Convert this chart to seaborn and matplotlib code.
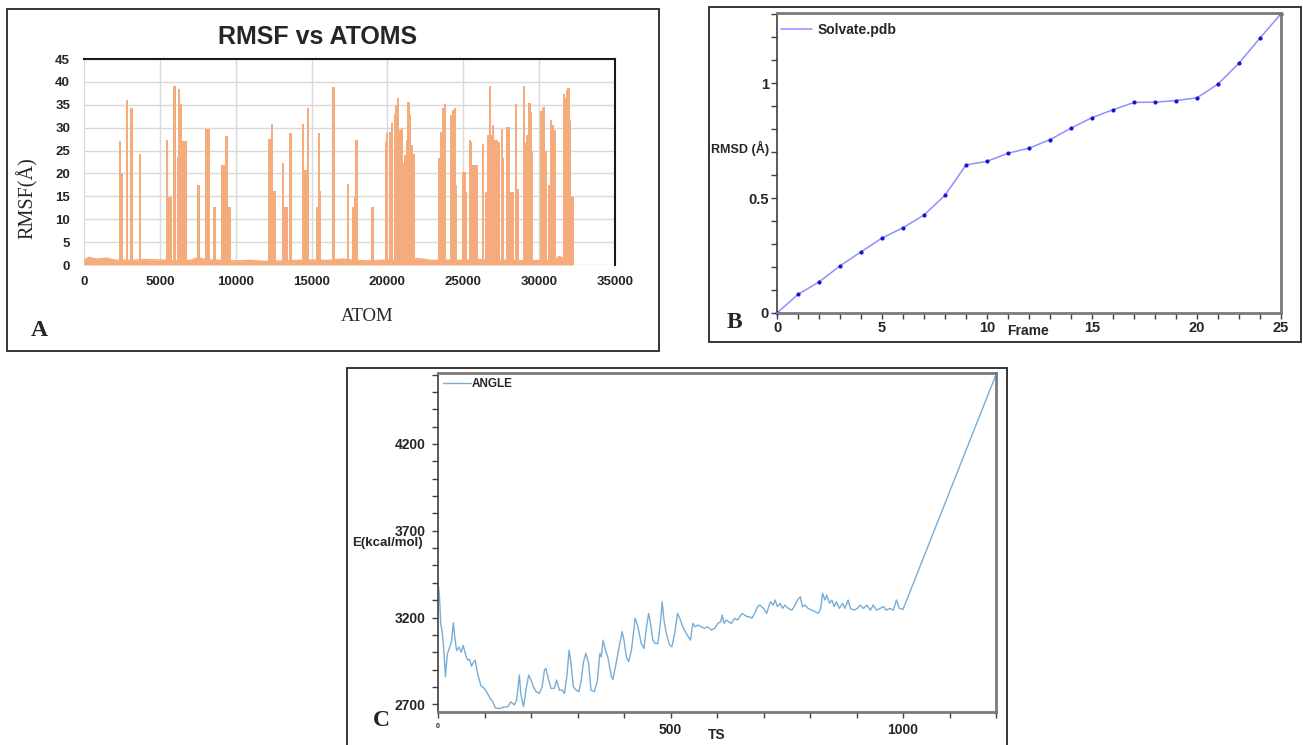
import matplotlib.pyplot as plt
import matplotlib.patches as patches
from matplotlib.lines import Line2D
from matplotlib.ticker import MultipleLocator
import pandas as pd
import seaborn as sns

sns.set_style('white')
plt.rcParams['font.family'] = ['Liberation Sans', 'DejaVu Sans']

# ---- panel A: RMSF per atom ----
baseline_atoms = [0, 300, 800, 1500, 2000, 3000, 4000, 5000, 6000, 7000, 7500, 8000,
                  9000, 10000, 11000, 12000, 13000, 14000, 15000, 16000, 17000, 18000,
                  19000, 20000, 21000, 22000, 23000, 24000, 25000, 26000, 27000, 28000,
                  29000, 30000, 31000, 31300, 32000, 32200]
baseline_rmsf = [1.0, 1.7, 1.3, 1.5, 1.1, 1.0, 1.2, 1.1, 0.9, 1.0, 1.6, 1.2,
                 1.0, 0.9, 1.0, 0.8, 0.9, 1.0, 1.1, 1.0, 1.3, 1.0,
                 0.9, 1.1, 1.0, 1.4, 1.0, 1.1, 1.0, 1.2, 1.0, 1.1,
                 0.9, 1.0, 1.0, 1.9, 1.0, 1.0]

spike_atoms = [2390, 2470, 2830, 3130, 3700, 5480, 5600, 5740, 5960, 6220, 6260, 6390,
               6500, 6600, 6700, 7540, 8050, 8150, 8260, 8610, 9130, 9220, 9300, 9390,
               9520, 9610, 12220, 12300, 12390, 12480, 12570, 13130, 13260, 13350, 13610,
               14440, 14570, 14650, 14700, 14780, 15390, 15480, 15570, 16440, 17400,
               17750, 17860, 17970, 19020, 19890, 19980, 20200, 20280, 20500, 20590,
               20720, 20810, 20980, 21070, 21160, 21290, 21380, 21500, 21590, 21770,
               23380, 23470, 23560, 23650, 23700, 23780, 24210, 24300, 24430, 24520,
               25000, 25090, 25180, 25440, 25520, 25610, 25740, 25920, 26310, 26490,
               26620, 26750, 26880, 26970, 27100, 27230, 27360, 27530, 27620, 27880,
               28010, 28140, 28270, 28490, 28580, 29020, 29150, 29240, 29370, 29450,
               29540, 30110, 30240, 30330, 30460, 30630, 30760, 30890, 31030, 31640,
               31720, 31860, 31940, 32030, 32120, 32200]
spike_rmsf = [27.1, 20.2, 36.0, 34.4, 24.3, 27.3, 14.9, 14.9, 39.0, 23.7, 38.4, 35.1,
              27.1, 27.1, 27.1, 17.5, 29.7, 29.7, 29.7, 12.7, 21.8, 21.8, 21.8, 28.2,
              12.7, 12.7, 27.5, 27.5, 30.7, 16.2, 16.2, 22.2, 12.7, 12.7, 28.8,
              30.8, 20.8, 20.8, 20.8, 34.4, 12.7, 28.8, 16.2, 38.8, 17.6,
              12.7, 14.9, 27.3, 12.7, 26.9, 28.8, 29.0, 31.0, 32.9, 35.0,
              36.4, 29.5, 29.9, 22.2, 24.0, 27.3, 35.7, 32.8, 26.2, 24.2,
              23.3, 23.3, 29.1, 34.2, 30.0, 35.1, 32.8, 33.9, 34.2, 17.5,
              20.4, 20.4, 16.0, 27.3, 26.9, 21.8, 21.8, 21.8, 26.4, 16.0,
              28.4, 39.2, 28.4, 30.6, 27.3, 27.3, 26.9, 29.7, 23.3, 30.2,
              30.2, 16.0, 16.0, 35.1, 16.6, 39.2, 26.6, 28.4, 35.3, 33.5,
              24.9, 33.6, 34.2, 34.6, 24.9, 17.5, 31.7, 30.6, 29.5, 37.3,
              36.4, 38.2, 38.7, 31.7, 14.9, 14.9]

# ---- panel B: RMSD per frame ----
frames = list(range(25))
rmsd = [0.0, 0.081, 0.135, 0.205, 0.266, 0.326, 0.371, 0.426, 0.512, 0.644, 0.660,
        0.695, 0.717, 0.754, 0.804, 0.850, 0.884, 0.916, 0.917, 0.924, 0.936,
        0.996, 1.087, 1.196, 1.302]

# ---- panel C: ANGLE energy per time step ----
ts_steps = [0, 3, 6, 9, 12, 16, 20, 25, 29, 33, 36, 40, 45, 50, 54, 60, 64, 68, 72, 76,
            80, 85, 92, 100, 107, 112, 118, 123, 132, 139, 150, 157, 164, 169, 175, 178,
            184, 189, 195, 200, 205, 211, 218, 224, 229, 232, 238, 243, 250, 255, 261,
            267, 272, 277, 282, 286, 291, 297, 303, 308, 313, 318, 324, 329, 336, 343,
            348, 351, 355, 360, 365, 373, 376, 383, 391, 396, 400, 405, 410, 416, 421,
            424, 430, 437, 443, 448, 453, 457, 462, 467, 473, 479, 482, 486, 491, 498,
            503, 509, 515, 520, 525, 530, 538, 543, 548, 553, 559, 566, 573, 580, 588,
            595, 602, 608, 611, 615, 620, 625, 631, 638, 644, 649, 654, 659, 665, 670,
            675, 681, 687, 692, 700, 707, 710, 715, 721, 725, 730, 736, 741, 746, 753,
            761, 768, 773, 779, 784, 789, 796, 804, 811, 818, 823, 827, 832, 836, 842,
            847, 852, 857, 863, 870, 875, 882, 887, 895, 902, 908, 915, 922, 930, 936,
            943, 951, 958, 964, 972, 979, 986, 992, 1000, 1200]
angle_energy = [3400, 3330, 3160, 3120, 3030, 2860, 2990, 3030, 3060, 3170, 3090, 3010,
                3030, 3000, 3040, 2980, 2955, 2960, 2920, 2940, 2955, 2880, 2810, 2790,
                2760, 2735, 2715, 2680, 2675, 2683, 2686, 2715, 2696, 2725, 2870, 2760,
                2686, 2782, 2869, 2840, 2802, 2773, 2763, 2802, 2898, 2907, 2840, 2792,
                2792, 2840, 2782, 2782, 2763, 2859, 3013, 2936, 2802, 2782, 2773, 2840,
                2946, 2994, 2936, 2782, 2773, 2840, 2994, 2974, 3070, 3013, 2974, 2859,
                2844, 2936, 3051, 3119, 3070, 2974, 2946, 3013, 3128, 3196, 3147, 3051,
                3022, 3138, 3224, 3167, 3070, 3051, 3051, 3186, 3291, 3186, 3109, 3042,
                3032, 3109, 3224, 3196, 3157, 3128, 3090, 3070, 3167, 3147, 3157, 3147,
                3138, 3147, 3128, 3138, 3167, 3176, 3215, 3167, 3186, 3176, 3167, 3196,
                3186, 3205, 3224, 3215, 3205, 3205, 3196, 3224, 3263, 3272, 3253, 3224,
                3253, 3291, 3272, 3301, 3263, 3282, 3253, 3272, 3253, 3243, 3272, 3301,
                3320, 3263, 3272, 3253, 3243, 3234, 3224, 3253, 3340, 3301, 3330, 3282,
                3301, 3263, 3291, 3253, 3282, 3253, 3301, 3253, 3243, 3253, 3272, 3253,
                3272, 3243, 3272, 3243, 3253, 3263, 3243, 3253, 3243, 3301, 3253, 3247,
                4600]

W, H = 1303, 745


def box(x0, y0, x1, y1):
    '''pixel box (left, top, right, bottom) -> figure fractions'''
    return [x0 / W, 1 - y1 / H, (x1 - x0) / W, (y1 - y0) / H]


def bold_ticks(ax):
    for lbl in ax.get_xticklabels() + ax.get_yticklabels():
        lbl.set_fontweight('bold')


fig = plt.figure(figsize=(W / 100, H / 100), dpi=100)

# panel frames
for x0, y0, x1, y1 in [(7, 9, 659, 351), (709, 7, 1301, 342), (347, 368, 1007, 750)]:
    fig.add_artist(patches.Rectangle((x0 / W, 1 - y1 / H), (x1 - x0) / W, (y1 - y0) / H,
                                     transform=fig.transFigure, fill=False,
                                     lw=1.3, ec='#262626'))

# ---------------- A ----------------
orange = '#f4ac7c'
axA = fig.add_axes(box(84, 59, 615, 265))
df_base = pd.DataFrame({'atom': baseline_atoms, 'rmsf': baseline_rmsf})
sns.lineplot(data=df_base, x='atom', y='rmsf', color=orange, lw=1, ax=axA)
axA.fill_between(baseline_atoms, baseline_rmsf, color=orange, lw=0)
axA.bar(spike_atoms, spike_rmsf, width=150, color=orange, lw=0)
axA.set(xlim=(0, 35000), ylim=(0, 45))
axA.set_xticks(range(0, 35001, 5000))
axA.set_yticks(range(0, 46, 5))
axA.grid(True, color='#d9d9d9', lw=1)
axA.set_axisbelow(True)
for s in ['left', 'bottom']:
    axA.spines[s].set_visible(False)
for s in ['top', 'right']:
    axA.spines[s].set(color='#1a1a1a', lw=1.5)
axA.tick_params(axis='y', length=0, labelsize=9.5, pad=10)
axA.tick_params(axis='x', length=0, labelsize=9.5, pad=8)
bold_ticks(axA)
axA.set_ylabel('RMSF(Å)', family=['Liberation Serif'], fontsize=14.5, ha='center', va='center')
axA.yaxis.set_label_coords(-0.107, 0.325)
axA.set_xlabel('ATOM', family=['Liberation Serif'], fontsize=13.5, ha='center', va='center')
axA.xaxis.set_label_coords(0.533, -0.252)
axA.text(0.44, 1.107, 'RMSF vs ATOMS', transform=axA.transAxes, ha='center', va='center',
         fontsize=18, fontweight='bold')

# ---------------- B ----------------
line_b = '#8f8fff'
axB = fig.add_axes(box(777, 13, 1281, 313))
df_rmsd = pd.DataFrame({'frame': frames, 'rmsd': rmsd})
sns.lineplot(data=df_rmsd, x='frame', y='rmsd', color=line_b, lw=1.1, marker='o',
             markersize=3.0, markerfacecolor='#1414d2', markeredgewidth=0,
             clip_on=False, ax=axB)
axB.set(xlim=(0, 24), ylim=(0, 1.305))
axB.set_xticks([0, 5, 10, 15, 20, 24], ['0', '5', '10', '15', '20', '25'])
axB.xaxis.set_minor_locator(MultipleLocator(1))
axB.set_yticks([0, 0.5, 1], ['0', '0.5', '1'])
axB.yaxis.set_minor_locator(MultipleLocator(0.1))
axB.tick_params(which='both', direction='out', length=4, width=1, color='#404040',
                labelsize=10.5, pad=2, bottom=True, left=True)
bold_ticks(axB)
axB.spines['left'].set(color='#404040', lw=1.2)
for s in ['top', 'right', 'bottom']:
    axB.spines[s].set(color='#7a7a7a', lw=2)
axB.set_ylabel('RMSD (Å)', rotation=0, ha='right', va='center', fontsize=9, fontweight='bold')
axB.yaxis.set_label_coords(-0.016, 0.547)
axB.set_xlabel('Frame', ha='center', va='center', fontsize=10, fontweight='bold')
axB.xaxis.set_label_coords(0.498, -0.06)
axB.legend(handles=[Line2D([], [], color=line_b, lw=1.1)], labels=['Solvate.pdb'],
           loc='upper left', bbox_to_anchor=(-0.004, 0.985), frameon=False, borderaxespad=0,
           handlelength=2.3, handletextpad=0.4, prop={'weight': 'bold', 'size': 10})

# ---------------- C ----------------
line_c = '#76aed8'
axC = fig.add_axes(box(438, 373, 996, 712))
df_angle = pd.DataFrame({'ts': ts_steps, 'energy': angle_energy})
sns.lineplot(data=df_angle, x='ts', y='energy', color=line_c, lw=1, ax=axC)
axC.set(xlim=(0, 1200), ylim=(2656, 4609))
axC.set_xticks([0, 500, 1000], ['0', '500', '1000'])
axC.xaxis.set_minor_locator(MultipleLocator(100))
axC.set_yticks([2700, 3200, 3700, 4200])
axC.yaxis.set_minor_locator(MultipleLocator(100))
axC.tick_params(which='both', direction='out', length=4, width=1, color='#404040',
                labelsize=10, bottom=True, left=True)
axC.tick_params(axis='y', pad=5)
axC.tick_params(axis='x', pad=4)
bold_ticks(axC)
axC.get_xticklabels()[0].set_fontsize(5)
axC.spines['left'].set(color='#404040', lw=1.2)
for s in ['top', 'right', 'bottom']:
    axC.spines[s].set(color='#7a7a7a', lw=2)
axC.set_ylabel('E(kcal/mol)', rotation=0, ha='center', va='center', fontsize=9.5, fontweight='bold')
axC.yaxis.set_label_coords(-0.091, 0.4985)
axC.set_xlabel('TS', ha='center', va='center', fontsize=10, fontweight='bold')
axC.xaxis.set_label_coords(0.5, -0.068)
axC.legend(handles=[Line2D([], [], color=line_c, lw=1)], labels=['ANGLE'],
           loc='upper left', bbox_to_anchor=(0.0, 1.0), frameon=False, borderaxespad=0,
           handlelength=2.4, handletextpad=0.05, prop={'weight': 'bold', 'size': 8.5})

# panel letters
for x, y, letter in [(39, 331, 'A'), (734, 322, 'B'), (381, 720, 'C')]:
    fig.text(x / W, 1 - y / H, letter, family=['Liberation Serif'], fontweight='bold',
             fontsize=17, ha='center', va='center')

fig.savefig('out.png', dpi=100)
